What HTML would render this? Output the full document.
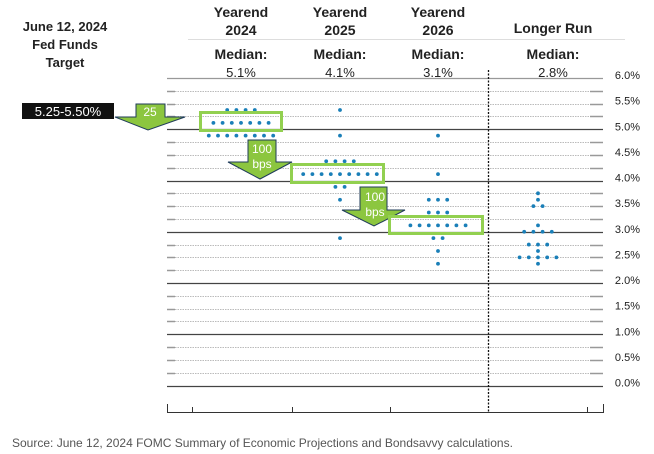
<!DOCTYPE html>
<html><head><meta charset="utf-8"><style>
body{margin:0;background:#fff;font-family:"Liberation Sans",sans-serif;}
svg{display:block}
</style></head><body>
<svg width="654" height="454" xmlns="http://www.w3.org/2000/svg">
<g id="grid"></g>
<g font-family="Liberation Sans, sans-serif" text-anchor="middle" fill="#222">
<text x="65" y="31" font-size="13" font-weight="bold">June 12, 2024</text>
<text x="65" y="49" font-size="13" font-weight="bold">Fed Funds</text>
<text x="65" y="67" font-size="13" font-weight="bold">Target</text>
<g id="heads"></g>
</g>
<line x1="188" y1="39.5" x2="625" y2="39.5" stroke="#ddd"/>
<g id="dots"></g>
<g>
<rect x="22" y="103" width="92" height="16" fill="#111"/>
<text x="68" y="116" font-size="13" fill="#fff" text-anchor="middle">5.25-5.50%</text>
<path d="M136 104 H165 V117 H185 L148 130 L115 117 H136 Z" fill="#8cc63f" stroke="#1f3b5a" stroke-width="1"/>
<text x="150" y="116" font-size="12" fill="#fff" text-anchor="middle">25</text>
<path d="M248 140 H276 V162 H292 L260 179 L228 162 H248 Z" fill="#8cc63f" stroke="#1f3b5a" stroke-width="1"/>
<text x="262" y="153" font-size="12" fill="#fff" text-anchor="middle">100</text>
<text x="262" y="168" font-size="12" fill="#fff" text-anchor="middle">bps</text>
<path d="M360 187 H387 V210 H405 L374 226 L342 210 H360 Z" fill="#8cc63f" stroke="#1f3b5a" stroke-width="1"/>
<text x="375" y="201" font-size="12" fill="#fff" text-anchor="middle">100</text>
<text x="375" y="216" font-size="12" fill="#fff" text-anchor="middle">bps</text>
<rect x="200.5" y="112.5" width="81" height="18" fill="none" stroke="#92d050" stroke-width="3"/>
<rect x="291.5" y="164.5" width="92" height="18" fill="none" stroke="#92d050" stroke-width="3"/>
<rect x="389.5" y="216.5" width="93" height="17" fill="none" stroke="#92d050" stroke-width="3"/>
</g>
<text x="12" y="447" font-size="12" fill="#555">Source: June 12, 2024 FOMC Summary of Economic Projections and Bondsavvy calculations.</text>
</svg>
<script>
const columns=["Yearend 2024","Yearend 2025","Yearend 2026","Longer Run"];
const medians=["5.1%","4.1%","3.1%","2.8%"];
const rates2024=[5.375,5.125,4.875];
const counts2024=[4,7,8];
const rates2025=[5.375,4.875,4.375,4.125,3.875,3.625,2.875];
const counts2025=[1,1,4,9,2,1,1];
const rates2026=[4.875,4.125,3.625,3.375,3.125,2.875,2.625,2.375];
const counts2026=[1,1,3,3,7,2,1,1];
const ratesLR=[3.75,3.625,3.5,3.125,3.0,2.75,2.625,2.5,2.375];
const countsLR=[1,1,2,1,4,3,1,5,1];
const yTicks=[6,5.5,5,4.5,4,3.5,3,2.5,2,1.5,1,0.5,0];
const NS="http://www.w3.org/2000/svg";
const y=v=>385.5-(v)*51.25;
const colX=[241,340,438,538];
const dx=9.2;
function mk(t,a,p){const e=document.createElementNS(NS,t);for(const k in a)e.setAttribute(k,a[k]);p.appendChild(e);return e;}
const grid=document.getElementById('grid');
for(let v=0;v<=6.001;v+=0.25){
  const yy=Math.round(y(v))+0.5;
  const isInt=Math.abs(v-Math.round(v))<1e-6;
  let l;
  if(isInt){
    l=mk('line',{x1:167,x2:603,y1:yy,y2:yy,stroke:v===6?'#999':'#444','stroke-width':1.2},grid);
  }else{
    l=mk('line',{x1:175,x2:590,y1:yy,y2:yy,stroke:'#bbb','stroke-width':1,'stroke-dasharray':'1.5,1'},grid);
    const a=mk('line',{x1:167,x2:175,y1:yy,y2:yy,stroke:'#999','stroke-width':1.5},grid);
    
    
    const b=mk('line',{x1:590,x2:603,y1:yy,y2:yy,stroke:'#999','stroke-width':1.5},grid);
    
    
  }
  
  
}
yTicks.forEach(v=>{
  const t=mk('text',{x:640,y:y(v)+1,'font-size':11,'text-anchor':'end',fill:'#222','font-family':'Liberation Sans, sans-serif'},grid);
  t.textContent=v.toFixed(1)+'%';
  
  
});
const ax=mk('path',{d:'M167.5 404 V412.5 H603.5 V404',fill:'none',stroke:'#333','stroke-width':1},grid);


[192,292,390,587].forEach(x=>{
  const t=mk('line',{x1:x+0.5,x2:x+0.5,y1:407,y2:412,stroke:'#333'},grid);
  
  
});
const vd=mk('line',{x1:488.5,x2:488.5,y1:70,y2:412,stroke:'#111','stroke-width':1.3,'stroke-dasharray':'2,1.5'},grid);


const heads=document.getElementById('heads');
columns.forEach((c,i)=>{
  const cx=i===3?553:colX[i];
  const parts=c.startsWith('Yearend')?['Yearend',c.split(' ')[1]]:['',c];
  parts.forEach((p,j)=>{if(!p)return;
    const t=mk('text',{x:cx,y:(i===3?33:17+j*18),'font-size':14,'font-weight':'bold'},heads);
    t.textContent=p;
    
    
  });
  const m=mk('text',{x:cx,y:59,'font-size':14,'font-weight':'bold'},heads);
  m.textContent='Median:';
  
  
  const mv=mk('text',{x:cx,y:77,'font-size':13},heads);
  mv.textContent=medians[i];
  
  
});
const dots=document.getElementById('dots');
[[rates2024,counts2024],[rates2025,counts2025],[rates2026,counts2026],[ratesLR,countsLR]].forEach(([r,c],i)=>{
  r.forEach((v,k)=>{
    const n=c[k];
    for(let j=0;j<n;j++){
      const cx=colX[i]+(j-(n-1)/2)*dx;
      const d=mk('circle',{cx:cx,cy:y(v),r:1.9,fill:'#1a7fb8'},dots);
      
      
    }
  });
});
</script>
</body></html>
